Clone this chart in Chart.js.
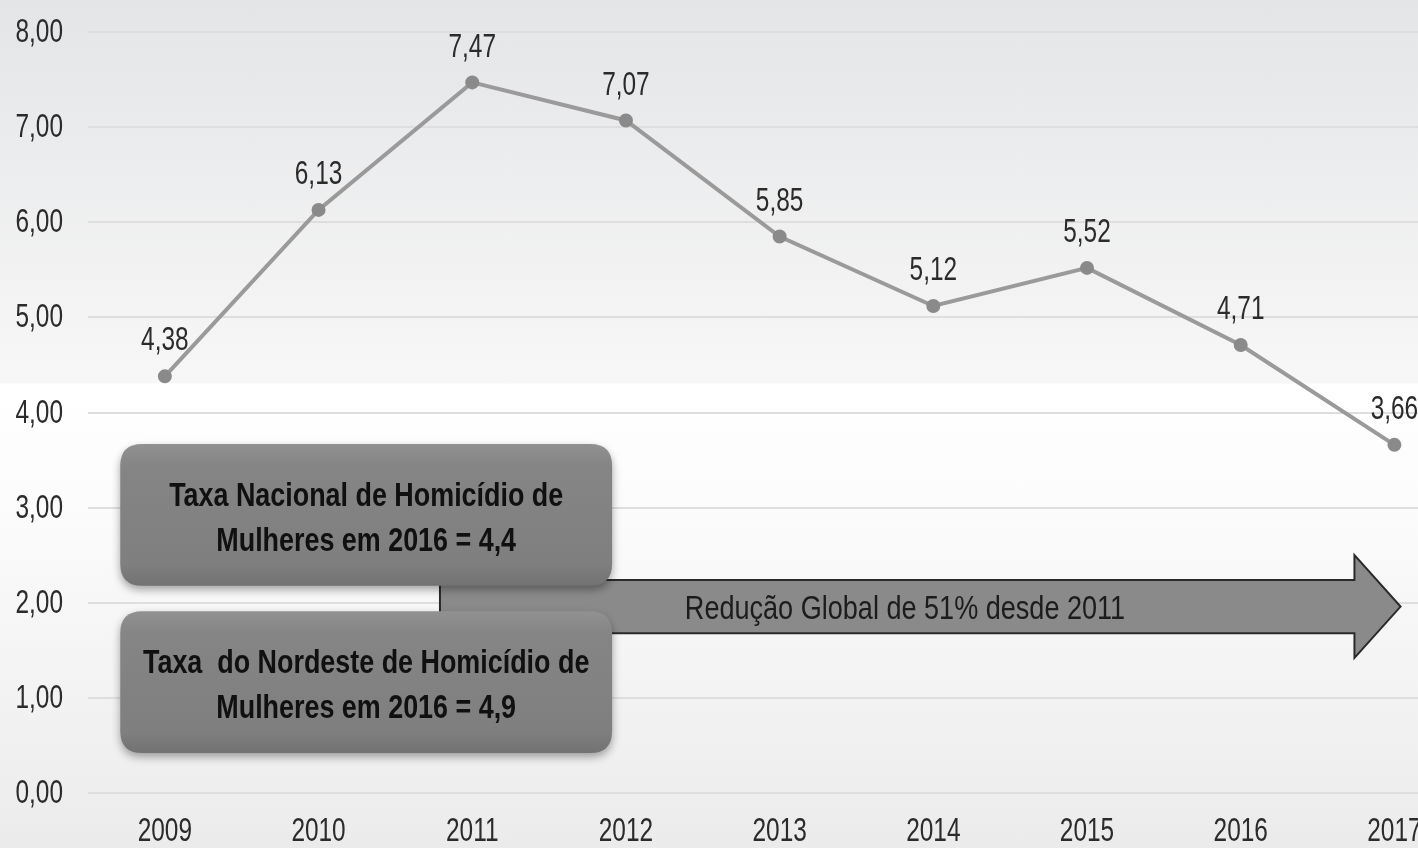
<!DOCTYPE html>
<html lang="pt">
<head>
<meta charset="UTF-8">
<title>Taxa de Homicídio de Mulheres</title>
<script src="https://cdn.jsdelivr.net/npm/chart.js"></script>
<style>
  html, body { margin: 0; padding: 0; overflow: hidden; }
  body {
    width: 1418px; height: 848px;
    background: linear-gradient(to bottom, #e4e5e7 0px, #f7f7f7 383px, #ffffff 384px, #fbfbfb 520px, #ebebeb 848px);
  }
  #wrap { position: relative; width: 1428px; height: 848px; }
</style>
</head>
<body>
<div id="wrap"><canvas id="chart"></canvas></div>
<script>
const years = [2009, 2010, 2011, 2012, 2013, 2014, 2015, 2016, 2017];
const rates = [4.38, 6.13, 7.47, 7.07, 5.85, 5.12, 5.52, 4.71, 3.66];
const yTicks = [0, 1, 2, 3, 4, 5, 6, 7, 8];
const boxTexts = [
  ['Taxa Nacional de Homicídio de', 'Mulheres em 2016 = 4,4'],
  ['Taxa  do Nordeste de Homicídio de', 'Mulheres em 2016 = 4,9']
];
const arrowText = 'Redução Global de 51% desde 2011';

const FONT = '"Liberation Sans", Arial, sans-serif';
const fmt = v => v.toFixed(2).replace('.', ',');

// condensed text: plain font squeezed horizontally
function narrowText(ctx, text, x, y, font, color, align, sx) {
  ctx.save();
  ctx.font = font + ' ' + FONT;
  ctx.fillStyle = color;
  ctx.textAlign = align || 'center';
  ctx.textBaseline = 'middle';
  ctx.translate(x, y);
  ctx.scale(sx || 0.74, 1);
  ctx.fillText(text, 0, 0);
  ctx.restore();
}

// tick labels (the built-in ones are hidden) and value labels
const labelsPlugin = {
  id: 'labelsPlugin',
  afterDraw(chart) {
    const ctx = chart.ctx;
    const xs = chart.scales.x, ys = chart.scales.y;
    ys.ticks.forEach(t => {
      narrowText(ctx, fmt(t.value), 63, ys.getPixelForValue(t.value) + 1, '33px', '#2b2b2b', 'right');
    });
    xs.ticks.forEach(t => {
      narrowText(ctx, String(t.value), xs.getPixelForValue(t.value), 832, '33px', '#2b2b2b', 'center');
    });
  },
  afterDatasetsDraw(chart) {
    const ctx = chart.ctx;
    chart.getDatasetMeta(0).data.forEach((pt, i) => {
      narrowText(ctx, fmt(rates[i]), pt.x, pt.y - 35, '33px', '#2b2b2b', 'center');
    });
  }
};

function roundRect(ctx, x, y, w, h, r) {
  ctx.beginPath();
  ctx.moveTo(x + r, y);
  ctx.lineTo(x + w - r, y);
  ctx.quadraticCurveTo(x + w, y, x + w, y + r);
  ctx.lineTo(x + w, y + h - r);
  ctx.quadraticCurveTo(x + w, y + h, x + w - r, y + h);
  ctx.lineTo(x + r, y + h);
  ctx.quadraticCurveTo(x, y + h, x, y + h - r);
  ctx.lineTo(x, y + r);
  ctx.quadraticCurveTo(x, y, x + r, y);
  ctx.closePath();
}

// callout boxes and arrow, placed in data units
const callouts = {
  id: 'callouts',
  afterDatasetsDraw(chart) {
    const ctx = chart.ctx;
    const xs = chart.scales.x, ys = chart.scales.y;
    const X = v => xs.getPixelForValue(v);
    const Y = v => ys.getPixelForValue(v);
    ctx.save();

    // arrow
    const ax0 = X(2010.79), axh = X(2016.74), axt = X(2017.04);
    const bt = Y(2.24), bb = Y(1.68), ht = Y(2.50), hb = Y(1.42);
    ctx.beginPath();
    ctx.moveTo(ax0, bt);
    ctx.lineTo(axh, bt);
    ctx.lineTo(axh, ht);
    ctx.lineTo(axt, (bt + bb) / 2);
    ctx.lineTo(axh, hb);
    ctx.lineTo(axh, bb);
    ctx.lineTo(ax0, bb);
    ctx.closePath();
    ctx.fillStyle = '#8a8a8a';
    ctx.fill();
    ctx.lineWidth = 2;
    ctx.strokeStyle = '#2a2a2a';
    ctx.stroke();
    narrowText(ctx, arrowText, 905, (bt + bb) / 2 + 3, '33px', '#1c1c1c', 'center', 0.82);

    // boxes
    const boxes = [[3.67, 2.18], [1.91, 0.42]];
    const bx0 = X(2008.71), bx1 = X(2011.91);
    boxes.forEach((b, i) => {
      const top = Y(b[0]), bot = Y(b[1]);
      ctx.save();
      ctx.shadowColor = 'rgba(0,0,0,0.35)';
      ctx.shadowBlur = 8;
      ctx.shadowOffsetY = 4;
      roundRect(ctx, bx0, top, bx1 - bx0, bot - top, 22);
      const g = ctx.createLinearGradient(0, top, 0, bot);
      g.addColorStop(0, '#919191');
      g.addColorStop(0.15, '#858585');
      g.addColorStop(0.85, '#7f7f7f');
      g.addColorStop(1, '#727272');
      ctx.fillStyle = g;
      ctx.fill();
      ctx.restore();
      const cx = (bx0 + bx1) / 2, cy = (top + bot) / 2;
      narrowText(ctx, boxTexts[i][0], cx, cy - 18, 'bold 33px', '#101010', 'center', 0.815);
      narrowText(ctx, boxTexts[i][1], cx, cy + 27, 'bold 33px', '#101010', 'center', 0.815);
    });
    ctx.restore();
  }
};

new Chart(document.getElementById('chart'), {
  type: 'line',
  data: {
    datasets: [{
      data: years.map((y, i) => ({ x: y, y: rates[i] })),
      borderColor: '#9a9a9a',
      borderWidth: 4,
      pointBackgroundColor: '#8a8a8a',
      pointBorderColor: '#8a8a8a',
      pointRadius: 5,
      tension: 0
    }]
  },
  options: {
    responsive: true,
    maintainAspectRatio: false,
    animation: false,
    layout: { padding: { top: 32, left: 0, right: 0, bottom: 0 } },
    plugins: { legend: { display: false }, tooltip: { enabled: false } },
    scales: {
      x: {
        type: 'linear',
        min: 2008.5,
        max: 2017.16,
        afterBuildTicks: s => { s.ticks = years.map(v => ({ value: v })); },
        afterFit: s => { s.height = 55; s.paddingRight = 0; s.paddingLeft = 0; },
        grid: { display: false, drawTicks: false },
        border: { display: false },
        ticks: { color: 'transparent', font: { size: 8 }, maxRotation: 0 }
      },
      y: {
        min: 0,
        max: 8,
        afterBuildTicks: s => { s.ticks = yTicks.map(v => ({ value: v })); },
        afterFit: s => { s.width = 88; s.paddingTop = 0; s.paddingBottom = 0; },
        grid: { color: '#dedede', lineWidth: 2, drawTicks: false },
        border: { display: false },
        ticks: { color: 'transparent', font: { size: 8 } }
      }
    }
  },
  plugins: [labelsPlugin, callouts]
});
</script>
</body>
</html>
